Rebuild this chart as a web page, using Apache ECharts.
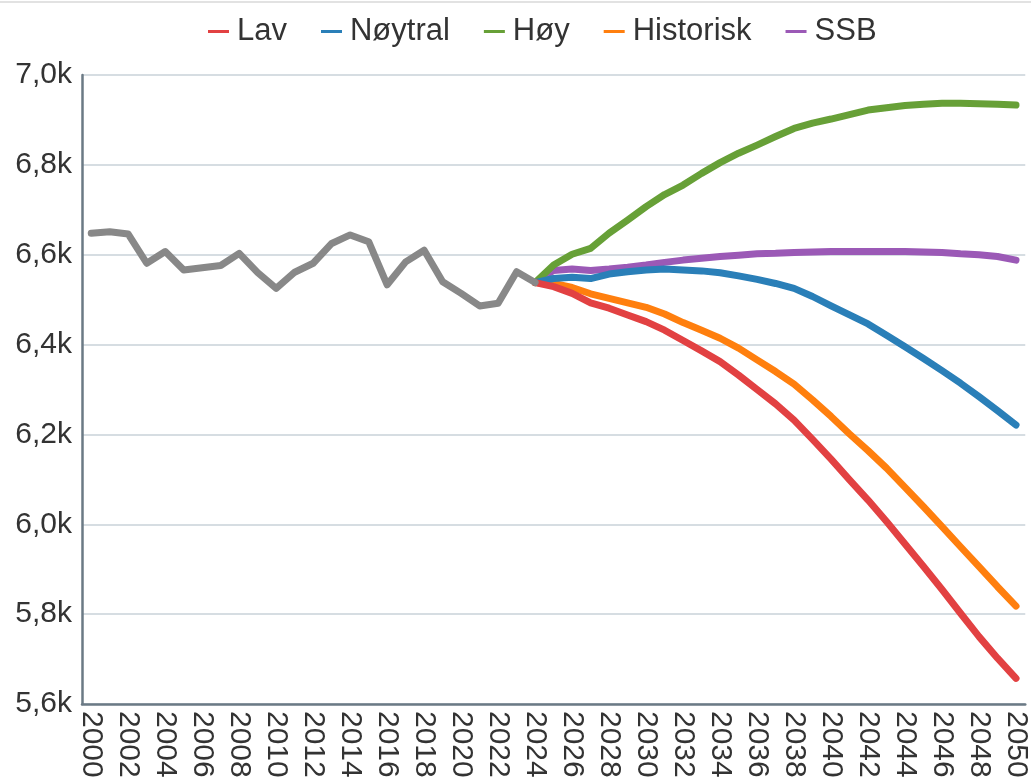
<!DOCTYPE html>
<html>
<head>
<meta charset="utf-8">
<script src="https://cdn.jsdelivr.net/npm/echarts@6/dist/echarts.min.js"></script>
<style>
html,body{margin:0;padding:0;background:#fff;}
#chart{width:1031px;height:782px;}
</style>
</head>
<body>
<div id="chart"></div>
<script>
var years = ['2000','2001','2002','2003','2004','2005','2006','2007','2008','2009',
  '2010','2011','2012','2013','2014','2015','2016','2017','2018','2019',
  '2020','2021','2022','2023','2024','2025','2026','2027','2028','2029',
  '2030','2031','2032','2033','2034','2035','2036','2037','2038','2039',
  '2040','2041','2042','2043','2044','2045','2046','2047','2048','2049','2050'];

// Observed values 2000-2024
var faktisk = [6648, 6651, 6646, 6581, 6607, 6566, 6571, 6576, 6603, 6560,
  6525, 6561, 6581, 6625, 6644, 6629, 6533, 6584, 6610, 6540,
  6514, 6486, 6492, 6562, 6538];

// Projections 2024-2050
var lav = [6538, 6529, 6514, 6493, 6481, 6466, 6451, 6432, 6409, 6386, 6362, 6332, 6300, 6268,
  6232, 6189, 6145, 6099, 6054, 6006, 5956, 5906, 5855, 5802, 5750, 5702, 5657];
var noytral = [6538, 6547, 6550, 6547, 6557, 6562, 6566, 6568, 6566, 6564, 6560, 6553, 6545, 6536,
  6525, 6507, 6486, 6466, 6446, 6421, 6395, 6369, 6342, 6314, 6284, 6253, 6221];
var hoy = [6538, 6577, 6601, 6614, 6648, 6677, 6707, 6734, 6755, 6781, 6805, 6826, 6844, 6863,
  6881, 6893, 6902, 6912, 6922, 6927, 6932, 6935, 6937, 6937, 6936, 6935, 6933];
var historisk = [6538, 6536, 6527, 6513, 6503, 6493, 6483, 6468, 6449, 6432, 6414, 6392, 6366, 6340,
  6312, 6277, 6240, 6201, 6164, 6125, 6082, 6039, 5995, 5950, 5906, 5861, 5818];
var ssb = [6538, 6565, 6568, 6565, 6568, 6572, 6577, 6583, 6588, 6592, 6596, 6599, 6602, 6603,
  6605, 6606, 6607, 6607, 6607, 6607, 6607, 6606, 6605, 6602, 6600, 6596, 6588];

var legendNames = ['Lav', 'Nøytral', 'Høy', 'Historisk', 'SSB'];
var yMin = 5600, yMax = 7000, yStep = 200;

function padAfter(arr) {
  var out = arr.slice();
  while (out.length < years.length) out.push(null);
  return out;
}
function padBefore(arr) {
  var out = [];
  for (var i = 0; i < years.length - arr.length; i++) out.push(null);
  return out.concat(arr);
}

var FONT = '"Liberation Sans", Arial, sans-serif';
function lineSeries(name, data, color) {
  return {
    name: name, type: 'line', data: data, showSymbol: false, symbol: 'none',
    connectNulls: false,
    lineStyle: { color: color, width: 7, cap: 'round', join: 'round' },
    itemStyle: { color: color },
    emphasis: { disabled: true }
  };
}

var chart = echarts.init(document.getElementById('chart'), null, { renderer: 'canvas' });
chart.setOption({
  animation: false,
  backgroundColor: '#ffffff',
  graphic: [{
    type: 'line', shape: { x1: 0, y1: 2, x2: 1031, y2: 2 },
    style: { stroke: '#e2e2e2', lineWidth: 2 }
  }],
  legend: {
    data: legendNames,
    left: 203, top: 11,
    icon: 'rect', itemWidth: 21, itemHeight: 3, itemGap: 34,
    textStyle: { fontFamily: FONT, fontSize: 31, color: '#333', padding: [0, 0, 0, 3] }
  },
  grid: { left: 82, right: 5, top: 75, bottom: 78, containLabel: false },
  xAxis: {
    type: 'category', data: years, boundaryGap: true,
    axisLine: { lineStyle: { color: '#6b7a85', width: 2.5 } },
    axisTick: { show: false },
    axisLabel: { interval: 1, rotate: -90, margin: 7, fontFamily: FONT, fontSize: 30, color: '#333' },
    splitLine: { show: false }
  },
  yAxis: {
    type: 'value', min: yMin, max: yMax, interval: yStep,
    axisLine: { show: true, lineStyle: { color: '#6b7a85', width: 2.5 } },
    axisTick: { show: false },
    axisLabel: {
      margin: 10, fontFamily: FONT, fontSize: 30, color: '#333',
      formatter: function (v) { return (v / 1000).toFixed(1).replace('.', ',') + 'k'; }
    },
    splitLine: { lineStyle: { color: '#d6dde2', width: 2 } }
  },
  series: [
    lineSeries('SSB', padBefore(ssb), '#9b59b6'),
    lineSeries('Historisk', padBefore(historisk), '#ff7f0e'),
    lineSeries('Høy', padBefore(hoy), '#67a037'),
    lineSeries('Nøytral', padBefore(noytral), '#2a7fb8'),
    lineSeries('Lav', padBefore(lav), '#e24142'),
    lineSeries('Faktisk', padAfter(faktisk), '#888888')
  ]
});
</script>
</body>
</html>
